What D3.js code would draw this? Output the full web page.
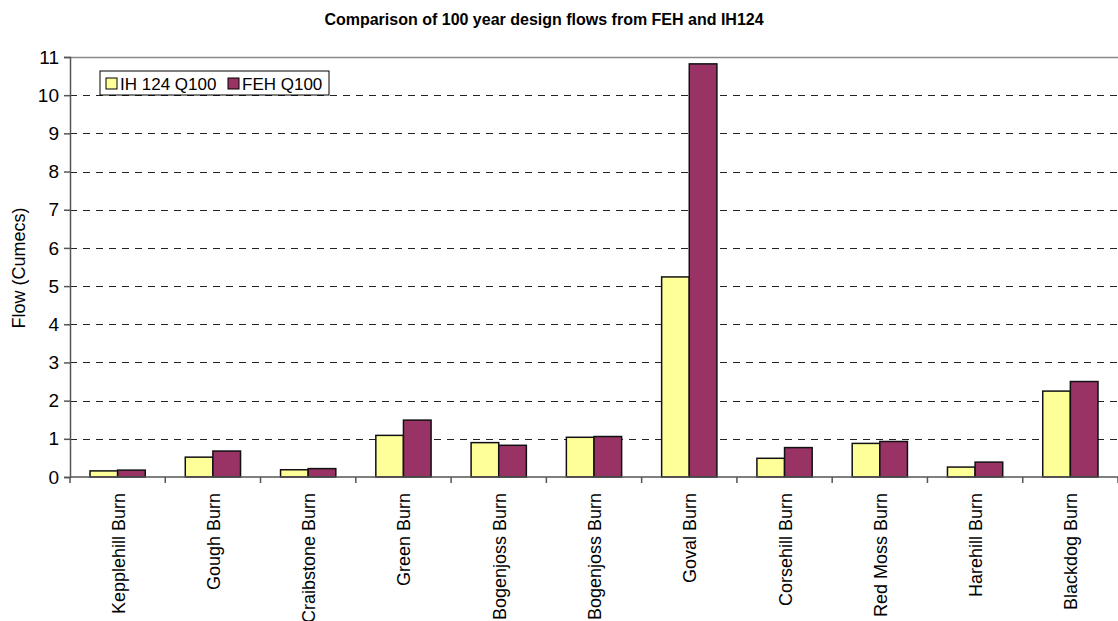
<!DOCTYPE html>
<html>
<head>
<meta charset="utf-8">
<script src="https://cdn.jsdelivr.net/npm/d3@7/dist/d3.min.js"></script>
<style>
  html, body { margin: 0; padding: 0; background: #fff; }
  svg { display: block; font-family: Arial, "Liberation Sans", sans-serif; }
</style>
</head>
<body>
<svg id="chart" width="1118" height="621"></svg>
<script>
// Burn catchments and their 100-year design flows (cumecs)
const burns = ["Kepplehill Burn", "Gough Burn", "Craibstone Burn", "Green Burn",
  "Bogenjoss Burn", "Bogenjoss Burn", "Goval Burn", "Corsehill Burn",
  "Red Moss Burn", "Harehill Burn", "Blackdog Burn"];
const ih124Q100 = [0.16, 0.52, 0.19, 1.09, 0.90, 1.04, 5.24, 0.49, 0.88, 0.26, 2.25];
const fehQ100   = [0.18, 0.68, 0.22, 1.49, 0.83, 1.06, 10.82, 0.77, 0.93, 0.39, 2.50];
const seriesNames = ["IH 124 Q100", "FEH Q100"];
const seriesColors = ["#FFFF99", "#993366"];
const yTicks = [0, 1, 2, 3, 4, 5, 6, 7, 8, 9, 10, 11];

const svg = d3.select("#chart");
const margin = { left: 70, right: 0, top: 57, bottom: 144 };
const W = 1118, H = 621;
const plotW = W - margin.left - margin.right;
const plotH = H - margin.top - margin.bottom;

const x = d3.scaleBand().domain(d3.range(burns.length)).range([0, plotW]).paddingInner(0).paddingOuter(0);
const groupFrac = 0.58;
const xs = d3.scaleBand().domain([0, 1])
  .range([x.bandwidth() * (1 - groupFrac) / 2, x.bandwidth() * (1 + groupFrac) / 2]);
const y = d3.scaleLinear().domain([0, 11]).range([plotH, 0]);

const g = svg.append("g").attr("transform", `translate(${margin.left},${margin.top})`);

// Title
svg.append("text")
  .attr("x", 544).attr("y", 25)
  .attr("text-anchor", "middle")
  .attr("font-size", 16).attr("font-weight", "bold")
  .text("Comparison of 100 year design flows from FEH and IH124");

// Dashed gridlines
g.append("g").selectAll("line")
  .data(yTicks.filter(t => t > 0 && t < 11))
  .join("line")
  .attr("x1", 0).attr("x2", plotW)
  .attr("y1", d => Math.round(y(d)) + 0.5).attr("y2", d => Math.round(y(d)) + 0.5)
  .attr("stroke", "#222").attr("stroke-width", 1)
  .attr("stroke-dasharray", "7,6");

// Top border of the plot area
g.append("line")
  .attr("x1", 0).attr("x2", plotW)
  .attr("y1", y(11) + 0.5).attr("y2", y(11) + 0.5)
  .attr("stroke", "#888").attr("stroke-width", 1.5);

// Bars
const rows = burns.map((b, i) => ({ i, vals: [ih124Q100[i], fehQ100[i]] }));
const groups = g.append("g").selectAll("g")
  .data(rows).join("g")
  .attr("transform", d => `translate(${x(d.i)},0)`);
groups.selectAll("rect")
  .data(d => d.vals.map((v, s) => ({ v, s })))
  .join("rect")
  .attr("x", d => xs(d.s))
  .attr("width", xs.bandwidth())
  .attr("y", d => y(d.v))
  .attr("height", d => y(0) - y(d.v))
  .attr("fill", d => seriesColors[d.s])
  .attr("stroke", "#111").attr("stroke-width", 1.5);

// Y axis
const yAxis = g.append("g")
  .call(d3.axisLeft(y).tickValues(yTicks).tickSize(6).tickPadding(5).tickFormat(d3.format("d")));
yAxis.select(".domain").attr("stroke", "#555").attr("stroke-width", 1.5);
yAxis.selectAll(".tick line").attr("stroke", "#555").attr("stroke-width", 1.5);
yAxis.selectAll(".tick text").attr("font-size", 19).attr("fill", "#000")
  .attr("font-family", "Arial, 'Liberation Sans', sans-serif");

// X axis with ticks at category boundaries
const xAxisG = g.append("g").attr("transform", `translate(0,${plotH})`);
xAxisG.append("line")
  .attr("x1", 0).attr("x2", plotW).attr("y1", 0).attr("y2", 0)
  .attr("stroke", "#555").attr("stroke-width", 1.5);
xAxisG.selectAll("line.tk")
  .data(d3.range(burns.length + 1))
  .join("line").attr("class", "tk")
  .attr("x1", d => d * x.step()).attr("x2", d => d * x.step())
  .attr("y1", 0).attr("y2", 6)
  .attr("stroke", "#555").attr("stroke-width", 1.5);
xAxisG.selectAll("text")
  .data(burns.map((b, i) => ({ b, i })))
  .join("text")
  .attr("transform", d => `translate(${x(d.i) + x.bandwidth() / 2 + 7},16) rotate(-90)`)
  .attr("text-anchor", "end")
  .attr("font-size", 18)
  .text(d => d.b);

// Y axis title
svg.append("text")
  .attr("transform", `translate(25,268) rotate(-90)`)
  .attr("text-anchor", "middle")
  .attr("font-size", 18)
  .text("Flow (Cumecs)");

// Legend
const lg = svg.append("g").attr("transform", "translate(100,71)");
lg.append("rect").attr("width", 229).attr("height", 24)
  .attr("fill", "#fff").attr("stroke", "#000").attr("stroke-width", 1);
const items = [{ x: 6, tx: 20 }, { x: 128, tx: 142 }];
seriesNames.forEach((n, s) => {
  lg.append("rect").attr("x", items[s].x).attr("y", 7).attr("width", 11).attr("height", 11)
    .attr("fill", seriesColors[s]).attr("stroke", "#000").attr("stroke-width", 1);
  lg.append("text").attr("x", items[s].tx).attr("y", 18.5).attr("font-size", 17).text(n);
});
</script>
</body>
</html>
